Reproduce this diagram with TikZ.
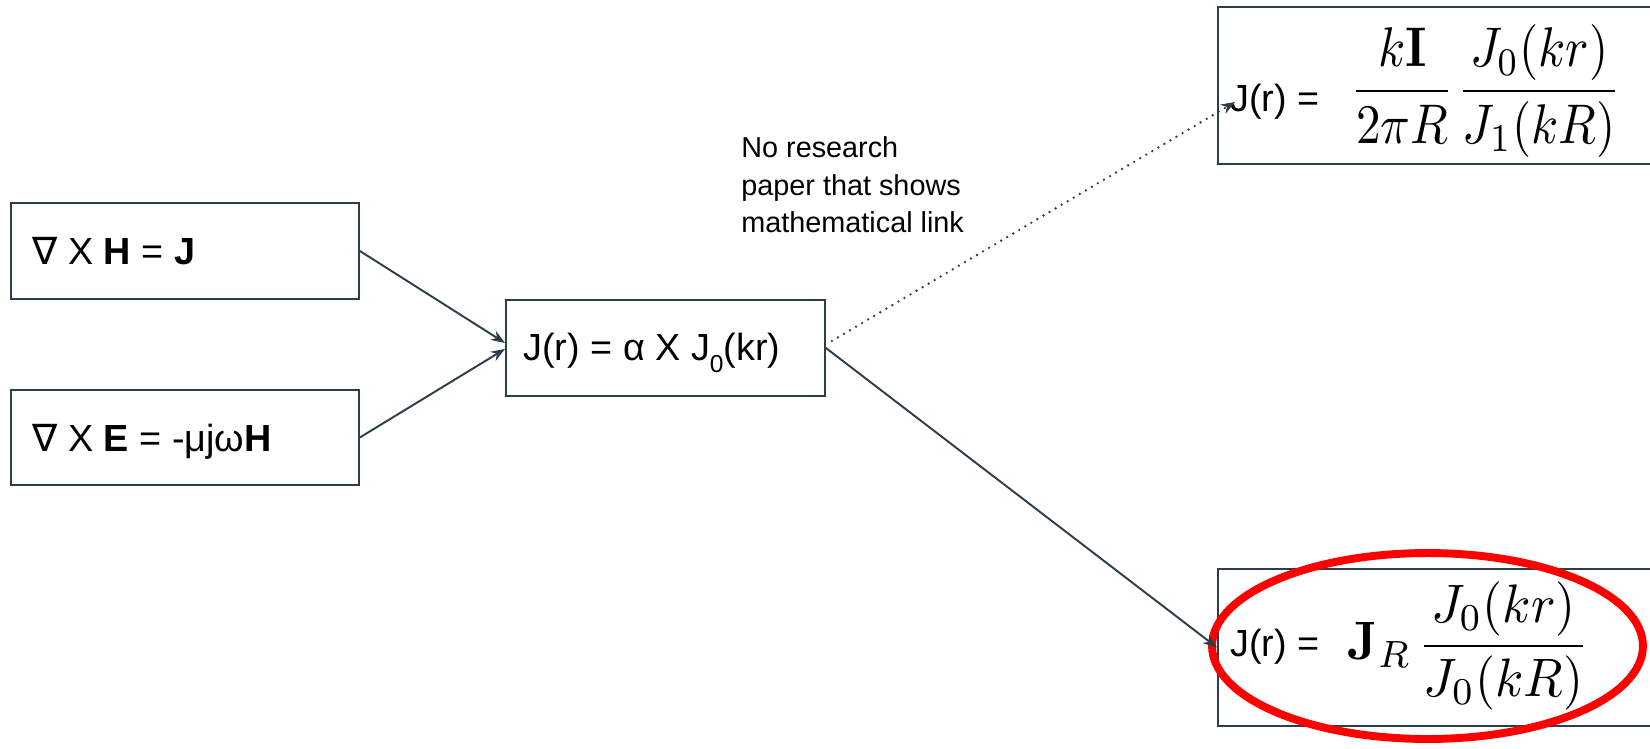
\RequirePackage{fix-cm}
\documentclass[tikz,border=0pt]{standalone}
\usepackage[no-math]{fontspec}
\setmainfont{Liberation Sans}
\newfontfamily\dejavu{DejaVu Sans}
\usetikzlibrary{arrows.meta,calc}
\definecolor{edge}{RGB}{44,62,74}
\begin{document}
\begin{tikzpicture}[x=0.02cm,y=-0.02cm,
  box/.style={draw=edge,line width=1.1pt,rectangle,anchor=north west,inner sep=0pt},
  conn/.style={draw=edge,line width=1.1pt,-{Stealth[length=8pt,width=6pt]}},
  dotconn/.style={draw=edge,line width=1.5pt,line cap=round,dash pattern=on 0pt off 4pt,-{Stealth[length=8pt,width=6pt]}},
  lbl/.style={anchor=base west,inner sep=0pt,text=black,font=\fontsize{21.5}{25}\selectfont},
  note/.style={anchor=north west,inner sep=0pt,align=left,text=black,font=\fontsize{16.4}{21.5}\selectfont},
  mth/.style={anchor=west,inner sep=0pt,text=black}]
\useasboundingbox (0,0) rectangle (1650,748);
% boxes
\node[box,minimum width=6.96cm,minimum height=1.92cm] (b1) at (10,202) {};
\node[box,minimum width=6.96cm,minimum height=1.90cm] (b2) at (10,389) {};
\node[box,minimum width=6.38cm,minimum height=1.92cm] (c) at (505,299) {};
\node[box,minimum width=9.2cm,minimum height=3.14cm] (tr) at (1217,6) {};
\node[box,minimum width=9.2cm,minimum height=3.14cm] (br) at (1217,568) {};
% texts
\node[lbl] (t1) at (32,264) {{\dejavu ∇} X \textbf{H} = \textbf{J}};
\node[lbl] (t2) at (32,451) {{\dejavu ∇} X \textbf{E} = -μjω\textbf{H}};
\node[lbl] (t3) at (523,360) {J(r) = α X J\raisebox{-0.32em}{\fontsize{14}{14}\selectfont 0}(kr)};
\node[note] (txt) at (741,136) {No research\\paper that shows\\mathematical link};
\node[lbl] (t4) at (1230,111) {J(r) =};
\node[mth] (m1) at (1350,91) {\resizebox*{5.42cm}{2.64cm}{$\displaystyle\frac{k\mathbf{I}}{2\pi R}\mkern1mu\frac{J_0(kr)}{J_1(kR)}$}};
\node[lbl] (t5) at (1230,656) {J(r) =};
\node[mth] (m2) at (1347,646) {\resizebox*{4.84cm}{2.56cm}{$\displaystyle\mathbf{J}_R\mkern2mu\frac{J_0(kr)}{J_0(kR)}$}};
% highlight
\draw[red,line width=4.5pt] (1427.5,646) ellipse [x radius=4.31cm, y radius=1.86cm];
% connectors
\coordinate (dotend) at (1235,102);
\draw[conn] (b1.east) -- ($(c.west)+(0,-5)$);
\draw[conn] (b2.east) -- ($(c.west)+(0,1)$);
\draw[conn] (c.east) -- (br.west);
\draw[dotconn] ($(c.east)+(6,-7)$) -- (dotend);
\end{tikzpicture}
\end{document}
